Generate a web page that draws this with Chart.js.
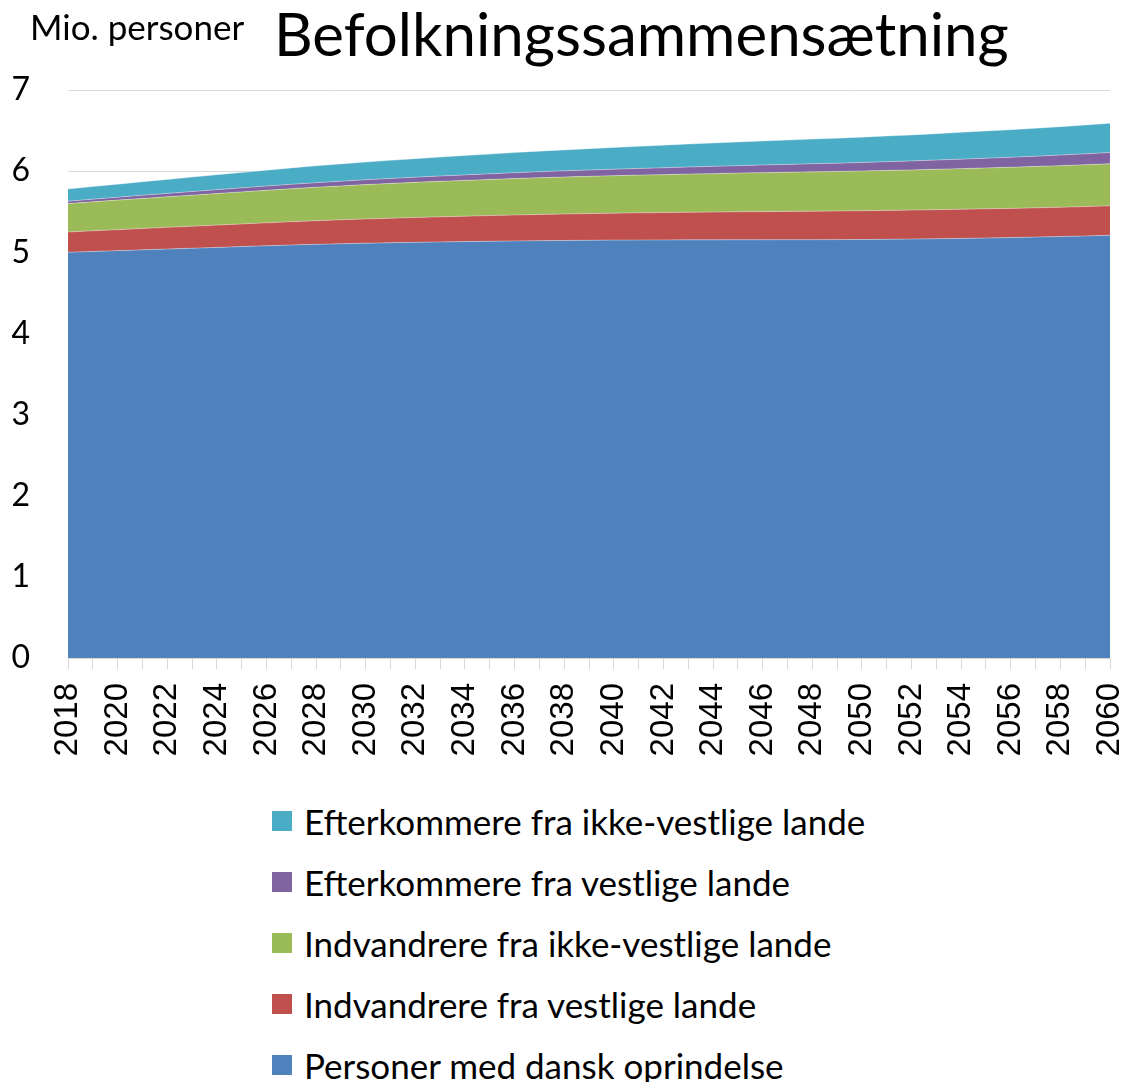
<!DOCTYPE html>
<html>
<head>
<meta charset="utf-8">
<script src="https://cdn.jsdelivr.net/npm/chart.js@4.4.1/dist/chart.umd.min.js"></script>
<style>
  body { margin: 0; background: #fff; font-family: Lato, "Open Sans", sans-serif; }
  #wrap { position: relative; width: 1129px; height: 1082px; }
  #legend { position: absolute; left: 272px; top: 790px; }
  .item { display: flex; align-items: center; height: 61px; font-size: 35px; color: #000; }
  .item .box { width: 20px; height: 20px; margin-right: 12px; }
</style>
</head>
<body>
<div id="wrap">
  <canvas id="myChart" width="1129" height="770"></canvas>
  <div id="legend"></div>
</div>
<script>
// Years on the x axis
const years = [];
for (let y = 2018; y <= 2060; y++) years.push(String(y));

// Mio. personer (stacked layers, bottom to top)
const danskData = [5.000, 5.010, 5.020, 5.030, 5.040, 5.050, 5.060, 5.070, 5.080, 5.090,
  5.098, 5.105, 5.112, 5.118, 5.123, 5.128, 5.132, 5.136, 5.140, 5.143,
  5.146, 5.148, 5.150, 5.151, 5.152, 5.153, 5.153, 5.154, 5.154, 5.155,
  5.155, 5.156, 5.157, 5.160, 5.163, 5.167, 5.171, 5.176, 5.181, 5.187,
  5.194, 5.201, 5.210];
const indVestData = [0.250, 0.255, 0.259, 0.263, 0.267, 0.271, 0.275, 0.279, 0.283, 0.287,
  0.291, 0.295, 0.299, 0.302, 0.306, 0.309, 0.313, 0.316, 0.320, 0.323,
  0.326, 0.329, 0.332, 0.335, 0.337, 0.340, 0.342, 0.345, 0.347, 0.349,
  0.351, 0.353, 0.355, 0.356, 0.357, 0.358, 0.359, 0.360, 0.360, 0.361,
  0.361, 0.362, 0.362];
const indIkkeVestData = [0.350, 0.357, 0.364, 0.371, 0.377, 0.383, 0.389, 0.395, 0.401, 0.407,
  0.413, 0.418, 0.423, 0.428, 0.433, 0.437, 0.441, 0.445, 0.449, 0.453,
  0.456, 0.459, 0.462, 0.465, 0.468, 0.471, 0.474, 0.477, 0.480, 0.482,
  0.485, 0.487, 0.490, 0.493, 0.495, 0.498, 0.501, 0.504, 0.507, 0.510,
  0.513, 0.516, 0.519];
const eftVestData = [0.030, 0.033, 0.036, 0.039, 0.042, 0.045, 0.048, 0.050, 0.052, 0.054,
  0.056, 0.058, 0.060, 0.062, 0.064, 0.066, 0.068, 0.070, 0.072, 0.074,
  0.076, 0.078, 0.080, 0.082, 0.085, 0.087, 0.090, 0.092, 0.095, 0.097,
  0.100, 0.102, 0.105, 0.108, 0.111, 0.114, 0.117, 0.120, 0.123, 0.126,
  0.130, 0.134, 0.138];
const eftIkkeVestData = [0.150, 0.155, 0.160, 0.166, 0.172, 0.178, 0.184, 0.190, 0.196, 0.202,
  0.208, 0.213, 0.218, 0.223, 0.228, 0.233, 0.238, 0.243, 0.248, 0.253,
  0.258, 0.263, 0.268, 0.273, 0.278, 0.283, 0.288, 0.292, 0.296, 0.300,
  0.304, 0.308, 0.312, 0.316, 0.320, 0.325, 0.330, 0.335, 0.340, 0.345,
  0.350, 0.355, 0.360];

const yTicks = [0, 1, 2, 3, 4, 5, 6, 7];

function layer(label, data, color, fill) {
  return {
    label: label,
    data: data,
    backgroundColor: color,
    borderColor: 'rgba(255,255,255,0.35)',
    borderWidth: 1,
    pointRadius: 0,
    tension: 0,
    fill: fill
  };
}

// title and unit text drawn on the canvas
const headerPlugin = {
  id: 'header',
  afterDraw(chart) {
    const c = chart.ctx;
    c.save();
    c.fillStyle = '#000';
    c.textAlign = 'left';
    c.textBaseline = 'alphabetic';
    c.font = '35px Lato';
    c.fillText('Mio. personer', 30, 40);
    c.font = '60px Lato';
    c.fillText('Befolkningssammensætning', 274, 56);
    c.restore();
  }
};

function drawGraph() {
  const ctx = document.getElementById('myChart').getContext('2d');
  const myChart = new Chart(ctx, {
    type: 'line',
    data: {
      labels: years,
      datasets: [
        layer('Personer med dansk oprindelse', danskData, '#4F81BD', 'origin'),
        layer('Indvandrere fra vestlige lande', indVestData, '#C0504D', '-1'),
        layer('Indvandrere fra ikke-vestlige lande', indIkkeVestData, '#9BBB59', '-1'),
        layer('Efterkommere fra vestlige lande', eftVestData, '#8064A2', '-1'),
        layer('Efterkommere fra ikke-vestlige lande', eftIkkeVestData, '#4BACC6', '-1')
      ]
    },
    options: {
      responsive: false,
      animation: false,
      layout: { padding: { top: 90, left: 0, right: 0, bottom: 2 } },
      plugins: {
        legend: { display: false },
        tooltip: { enabled: false }
      },
      scales: {
        x: {
          offset: false,
          border: { display: true, color: '#D9D9D9' },
          grid: { drawOnChartArea: false, drawTicks: true, tickLength: 11, color: '#D9D9D9' },
          ticks: {
            autoSkip: false,
            minRotation: 90,
            maxRotation: 90,
            padding: 14,
            color: '#000',
            font: { family: 'Liberation Sans', size: 33 },
            callback: function (val, i) { return i % 2 === 0 ? years[i] : ''; }
          },
          afterFit: function (axis) {
            axis.height = 110;
            axis.paddingLeft = 0;
            axis.paddingRight = 19;
          }
        },
        y: {
          stacked: true,
          min: 0,
          max: 7,
          border: { display: false },
          grid: { color: '#D9D9D9', drawTicks: false },
          afterBuildTicks: function (axis) { axis.ticks = yTicks.map(v => ({ value: v })); },
          ticks: {
            padding: 38,
            color: '#000',
            font: { family: 'Lato', size: 32 }
          },
          afterFit: function (axis) { axis.width = 68; }
        }
      }
    },
    plugins: [headerPlugin]
  });

  // legend below the chart, top layer first
  const box = document.getElementById('legend');
  myChart.data.datasets.slice().reverse().forEach(function (ds) {
    const row = document.createElement('div');
    row.className = 'item';
    const sw = document.createElement('span');
    sw.className = 'box';
    sw.style.background = ds.backgroundColor;
    const txt = document.createElement('span');
    txt.textContent = ds.label;
    row.appendChild(sw);
    row.appendChild(txt);
    box.appendChild(row);
  });
}

drawGraph();
</script>
</body>
</html>
